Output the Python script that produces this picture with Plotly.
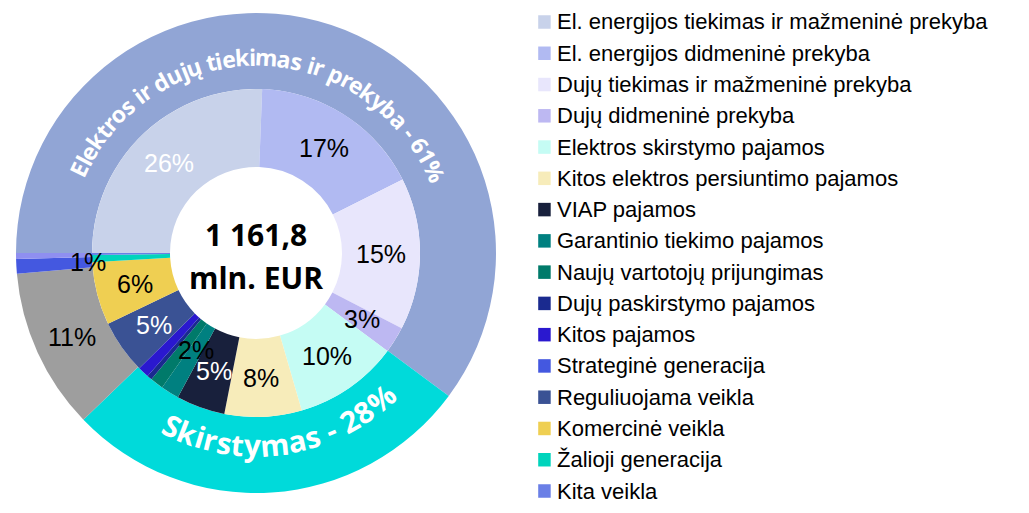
import math
import plotly.graph_objects as go

# ---------------- data ----------------
inner_labels = [
    "El. energijos tiekimas ir mažmeninė prekyba",
    "El. energijos didmeninė prekyba",
    "Dujų tiekimas ir mažmeninė prekyba",
    "Dujų didmeninė prekyba",
    "Elektros skirstymo pajamos",
    "Kitos elektros persiuntimo pajamos",
    "VIAP pajamos",
    "Garantinio tiekimo pajamos",
    "Naujų vartotojų prijungimas",
    "Dujų paskirstymo pajamos",
    "Kitos pajamos",
    "Strateginė generacija",
    "Reguliuojama veikla",
    "Komercinė veikla",
    "Žalioji generacija",
    "Kita veikla",
]
# share of total revenue, %
inner_values = [25.6, 17.0, 15.0, 2.6, 10.3, 7.6, 4.8, 1.8, 1.3, 0.5, 1.1, 0.0, 5.3, 6.2, 0.7, 0.2]

outer_labels = ["Elektros ir dujų tiekimas ir prekyba", "Skirstymas", "Gamyba",
                "Strateginė generacija", "Kita veikla"]
outer_values = [61, 28, 11, 1, 0.4]
outer_captions = ["Elektros ir dujų tiekimas ir prekyba - 61%", "Skirstymas - 28%"]
center_lines = ["1 161,8", "mln. EUR"]

# ---------------- styles ----------------
inner_colors = ["#C8D2EA", "#B1BAF2", "#E8E6FC", "#BDB8F2", "#C5FCF4", "#F7ECBA",
                "#18203C", "#008080", "#007A6A", "#1A2A8F", "#2A18CF", "#4458E0",
                "#3A5294", "#EFCF52", "#00D4BC", "#6A7FE6"]
inner_label_colors = ["white", "black", "black", "black", "black", "black",
                      "white", "black", "black", "black", "black", "black",
                      "white", "black", "black", "black"]
outer_colors = ["#91A5D5", "#00DADA", "#9E9E9E", "#4458E0", "#8F8FF0"]
MIN_LABEL = 1.5          # inner slices below this share get no label

# page geometry (the figure sits inside the page body margin)
PAGE_OX, PAGE_OY = 8.0, 8.0
FIG_W, FIG_H = 1013.0, 497.0
CX, CY = 256.0, 253.0    # donut centre, page px
R_OUT, R_MID, R_IN = 240.0, 164.0, 86.0
START = 270.0            # first slice starts at 9 o'clock, going clockwise
LABEL_FONT = "Arial"
BOLD_FONT = "Open Sans"
LEG_X_BOX, LEG_X_TEXT, LEG_Y0, LEG_Y1 = 538.2, 554.5, 22.0, 491.0
LEG_BOX_W, LEG_BOX_H = 12.5, 13.5


def to_paper(px, py):
    return (px - PAGE_OX) / FIG_W, 1 - (py - PAGE_OY) / FIG_H


def polar(r, theta):
    t = math.radians(theta)
    return to_paper(CX + r * math.sin(t), CY - r * math.cos(t))


def mid_angles(values):
    tot = float(sum(values))
    out, acc = [], 0.0
    for v in values:
        out.append(START + 360.0 * (acc + v / 2.0) / tot)
        acc += v
    return out


def domain(r):
    x0, y0 = to_paper(CX - r, CY + r)
    x1, y1 = to_paper(CX + r, CY - r)
    return dict(x=[x0, x1], y=[y0, y1])


fig = go.Figure()
fig.add_trace(go.Pie(
    labels=outer_labels, values=outer_values, sort=False, direction="clockwise",
    rotation=START - 360, hole=R_MID / R_OUT, domain=domain(R_OUT),
    marker=dict(colors=outer_colors, line=dict(width=0)),
    textinfo="none", showlegend=False, hoverinfo="label+value",
))
fig.add_trace(go.Pie(
    labels=inner_labels, values=inner_values, sort=False, direction="clockwise",
    rotation=START - 360, hole=R_IN / R_MID, domain=domain(R_MID),
    marker=dict(colors=inner_colors, line=dict(width=0)),
    textinfo="none", showlegend=False, hoverinfo="label+value",
))

annotations = []
shapes = []


def add_text(x, y, text, size, color, family=LABEL_FONT, angle=0, xanchor="center",
             weight="normal"):
    annotations.append(dict(x=x, y=y, xref="paper", yref="paper", text=text,
                            showarrow=False, xanchor=xanchor, yanchor="middle",
                            textangle=angle,
                            font=dict(family=family, size=size, color=color,
                                      weight=weight)))


# inner percentage labels at mid-angle / mid-radius
r_lab = (R_IN + R_MID) / 2.0
label_radius_shift = {7: -11.0}
for i, (v, a) in enumerate(zip(inner_values, mid_angles(inner_values))):
    if v < MIN_LABEL:
        continue
    x, y = polar(r_lab + label_radius_shift.get(i, 0.0), a)
    add_text(x, y, f"{round(v)}%", 25, inner_label_colors[i])

# outer small-group labels
outer_mid = mid_angles(outer_values)
x, y = polar((R_MID + R_OUT) / 2.0, outer_mid[2])
add_text(x, y, f"{outer_values[2]}%", 25, "black")
x, y = polar(R_MID + 4, outer_mid[3])
add_text(x, y, f"{outer_values[3]}%", 25, "black")

# curved captions on the outer ring, glyph by glyph along the arc
CHAR_EM = {" ": .26, "-": .322, "%": .89, "E": .547, "S": .541, "a": .586, "b": .618,
           "d": .618, "e": .579, "i": .292, "j": .292, "k": .619, "l": .292, "m": .942,
           "o": .604, "p": .618, "r": .443, "s": .495, "t": .42, "u": .634, "ų": .634,
           "y": .552}


def arc_text(text, a_start, a_end, radius, top):
    ems = [CHAR_EM.get(c, .572) for c in text]
    size = abs(a_end - a_start) * math.pi / 180.0 * radius / sum(ems)
    s = 0.0
    for c, e in zip(text, ems):
        sc = (s + e / 2.0) * size
        s += e
        if c == " ":
            continue
        ang = a_start + math.degrees(sc / radius) * (1 if top else -1)
        px, py = polar(radius, ang)
        rot = ang if top else ang - 180
        rot = ((rot + 180) % 360) - 180
        add_text(px, py, c, size, "white", family=BOLD_FONT, angle=rot, weight="bold")


arc_text(outer_captions[0], 293.5, 428.4, 196, True)
arc_text(outer_captions[1], 208.5, 135.4, 192, False)

# centre total
for text, py in zip(center_lines, [234, 277]):
    x, y = to_paper(CX, py)
    add_text(x, y, text, 30, "black", family=BOLD_FONT, weight="bold")

# legend (rows spread over the full height as in the reference)
n_rows = len(inner_labels)
leg_dy = (LEG_Y1 - LEG_Y0) / (n_rows - 1)
for i, (lab, col) in enumerate(zip(inner_labels, inner_colors)):
    yc = LEG_Y0 + i * leg_dy
    x0, y0 = to_paper(LEG_X_BOX, yc + LEG_BOX_H / 2)
    x1, y1 = to_paper(LEG_X_BOX + LEG_BOX_W, yc - LEG_BOX_H / 2)
    shapes.append(dict(type="rect", xref="paper", yref="paper", x0=x0, x1=x1,
                       y0=y0, y1=y1, fillcolor=col, line=dict(width=0)))
    tx, ty = to_paper(LEG_X_TEXT, yc)
    add_text(tx, ty, lab, 22, "black", xanchor="left")

fig.update_layout(
    margin=dict(l=0, r=0, t=0, b=0),
    paper_bgcolor="white", plot_bgcolor="white",
    annotations=annotations, shapes=shapes, showlegend=False,
)
fig.write_html("out.html")
